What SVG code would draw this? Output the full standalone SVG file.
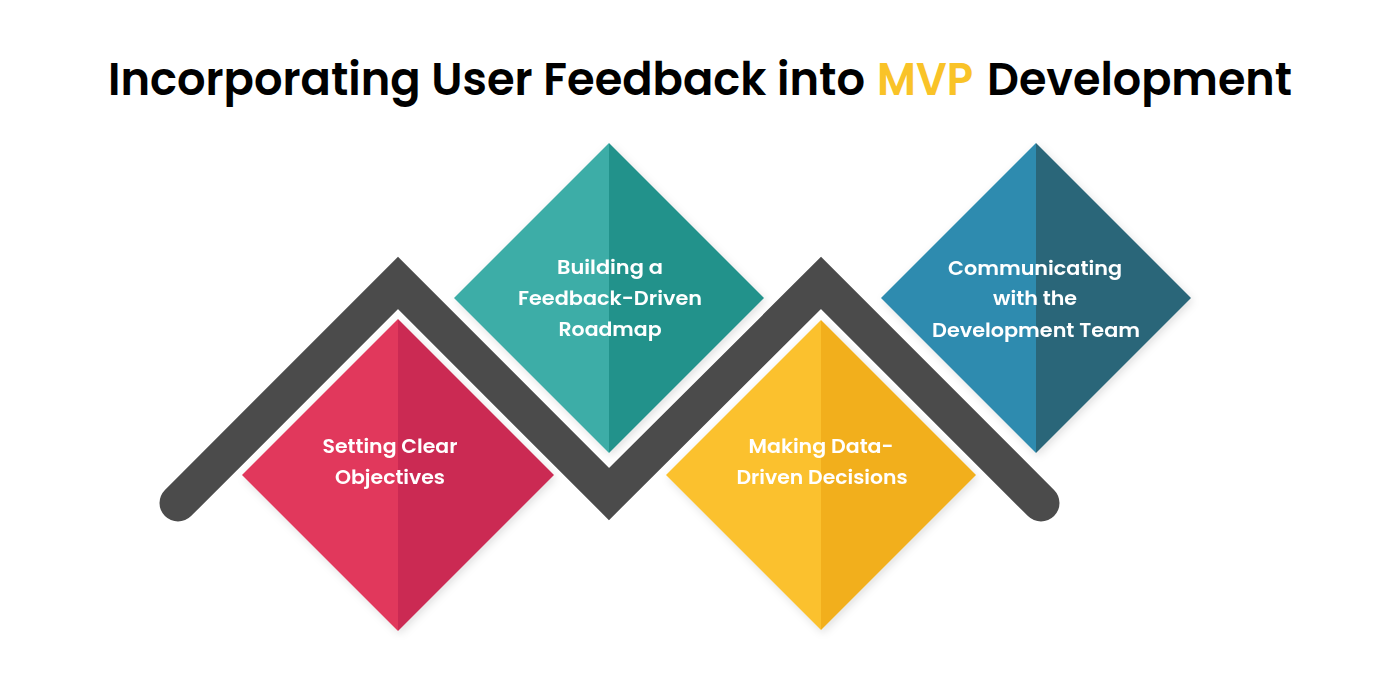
<svg xmlns="http://www.w3.org/2000/svg" width="1400" height="700" viewBox="0 0 1400 700">
  <defs>
    <filter id="sh" x="-20%" y="-20%" width="140%" height="140%">
      <feDropShadow dx="2" dy="3" stdDeviation="4" flood-color="#000" flood-opacity="0.12"/>
    </filter>
  </defs>
  <style>
    .title { font-family: "Poppins", "Inter", "Noto Sans", sans-serif; font-weight: 600; font-size: 46px; fill: #000; }
    .mvp { fill: #F9C328; }
    .lbl { font-family: "Poppins", "Inter", "Noto Sans", sans-serif; font-weight: 600; font-size: 20px; fill: #fff; text-anchor: middle; }
    .band { fill: none; stroke: #4B4B4B; stroke-width: 37; stroke-linecap: round; stroke-linejoin: miter; }
  </style>
  <rect width="1400" height="700" fill="#fff"/>

  <g id="title">
    <text class="title" x="108" y="95" textLength="757" lengthAdjust="spacingAndGlyphs">Incorporating User Feedback into</text>
    <text class="title mvp" x="877" y="95" textLength="96" lengthAdjust="spacingAndGlyphs">MVP</text>
    <text class="title" x="987" y="95" textLength="305" lengthAdjust="spacingAndGlyphs">Development</text>
  </g>

  <g id="connectors">
    <polyline class="band" points="178,503 398,283 609,494 821,283 1041,503"/>
  </g>

  <g id="node-setting-clear-objectives" filter="url(#sh)">
    <polygon points="398,319 398,631 242,475" fill="#E1385B"/>
    <polygon points="398,319 554,475 398,631" fill="#CB2B53"/>
    <text class="lbl" x="390" y="453" textLength="135" lengthAdjust="spacingAndGlyphs">Setting Clear</text>
    <text class="lbl" x="390" y="484" textLength="110" lengthAdjust="spacingAndGlyphs">Objectives</text>
  </g>

  <g id="node-feedback-driven-roadmap" filter="url(#sh)">
    <polygon points="609,143 609,453 454,298" fill="#3CADA7"/>
    <polygon points="609,143 764,298 609,453" fill="#21928B"/>
    <text class="lbl" x="610" y="274" textLength="106" lengthAdjust="spacingAndGlyphs">Building a</text>
    <text class="lbl" x="610" y="305" textLength="184" lengthAdjust="spacingAndGlyphs">Feedback-Driven</text>
    <text class="lbl" x="610" y="336" textLength="103" lengthAdjust="spacingAndGlyphs">Roadmap</text>
  </g>

  <g id="node-data-driven-decisions" filter="url(#sh)">
    <polygon points="821,320 821,630 666,475" fill="#FBC12E"/>
    <polygon points="821,320 976,475 821,630" fill="#F2AF1D"/>
    <text class="lbl" x="821" y="453" textLength="145" lengthAdjust="spacingAndGlyphs">Making Data-</text>
    <text class="lbl" x="822" y="484" textLength="171" lengthAdjust="spacingAndGlyphs">Driven Decisions</text>
  </g>

  <g id="node-communicating-dev-team" filter="url(#sh)">
    <polygon points="1036,143 1036,453 881,298" fill="#2F8BAF"/>
    <polygon points="1036,143 1191,298 1036,453" fill="#2B6679"/>
    <text class="lbl" x="1035" y="275" textLength="174" lengthAdjust="spacingAndGlyphs">Communicating</text>
    <text class="lbl" x="1035" y="305" textLength="84" lengthAdjust="spacingAndGlyphs">with the</text>
    <text class="lbl" x="1036" y="337" textLength="208" lengthAdjust="spacingAndGlyphs">Development Team</text>
  </g>
</svg>
